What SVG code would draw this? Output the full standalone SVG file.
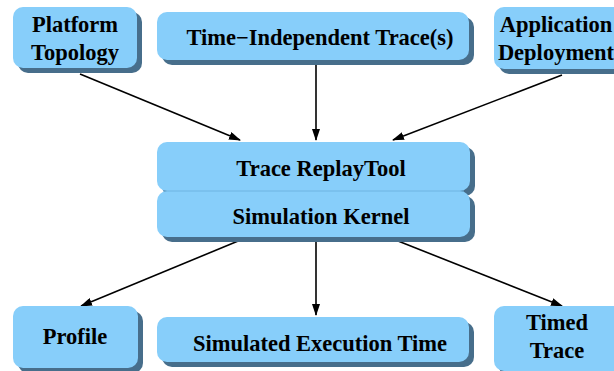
<svg xmlns="http://www.w3.org/2000/svg" width="614" height="371" viewBox="0 0 614 371">
<style>
.sh{fill:#476E8B}
.bx{fill:#87CEFA}
.t{font-family:"Liberation Serif","Times New Roman",serif;font-weight:bold;font-size:22.5px;fill:#000;text-anchor:middle}
.c{stroke:#000;stroke-width:1.6;fill:none;marker-end:url(#ah)}
</style>
<defs>
<marker id="ah" markerWidth="12" markerHeight="8" refX="11" refY="4" orient="auto" markerUnits="userSpaceOnUse">
<path d="M0,0 L12,4 L0,8 Z" fill="#000"/>
</marker>
</defs>
<rect width="614" height="371" fill="#fff"/>
<g id="connectors">
<line class="c" x1="80" y1="74" x2="240" y2="140"/>
<line class="c" x1="316" y1="64" x2="316" y2="140"/>
<line class="c" x1="562" y1="75" x2="393" y2="140"/>
<line class="c" x1="243" y1="239" x2="81" y2="306"/>
<line class="c" x1="316" y1="240" x2="316" y2="315"/>
<line class="c" x1="393" y1="239" x2="562" y2="306"/>
</g>
<g id="platform">
<rect class="sh" x="18" y="12" width="124" height="61" rx="10"/>
<rect class="bx" x="13" y="7" width="124" height="61" rx="10"/>
<text class="t" x="75" y="32">Platform</text>
<text class="t" x="75" y="60">Topology</text>
</g>
<g id="trace">
<rect class="sh" x="162" y="17" width="312" height="48" rx="10"/>
<rect class="bx" x="157" y="12" width="312" height="48" rx="10"/>
<text class="t" x="320" y="45">Time−Independent Trace(s)</text>
</g>
<g id="deployment">
<rect class="sh" x="499" y="12" width="130" height="62" rx="10"/>
<rect class="bx" x="494" y="7" width="130" height="62" rx="10"/>
<text class="t" x="556" y="32">Application</text>
<text class="t" x="556" y="60">Deployment</text>
</g>
<g id="replaytool">
<rect class="sh" x="162" y="147" width="313" height="49" rx="10"/>
<rect class="bx" x="157" y="142" width="313" height="49" rx="10"/>
<text class="t" x="321" y="176">Trace ReplayTool</text>
</g>
<g id="kernel">
<rect class="sh" x="162" y="196" width="313" height="46" rx="10"/>
<rect class="bx" x="157" y="191" width="313" height="46" rx="10"/>
<line x1="163" y1="191" x2="464" y2="191" stroke="#6EB4E2" stroke-width="1"/>
<text class="t" x="321" y="224">Simulation Kernel</text>
</g>
<g id="profile">
<rect class="sh" x="18" y="311" width="125" height="62" rx="10"/>
<rect class="bx" x="13" y="306" width="125" height="62" rx="10"/>
<text class="t" x="75" y="344">Profile</text>
</g>
<g id="exectime">
<rect class="sh" x="162" y="322" width="312" height="45" rx="10"/>
<rect class="bx" x="157" y="317" width="312" height="45" rx="10"/>
<text class="t" x="320" y="351">Simulated Execution Time</text>
</g>
<g id="timedtrace">
<rect class="sh" x="499" y="311" width="130" height="65" rx="10"/>
<rect class="bx" x="494" y="306" width="130" height="65" rx="10"/>
<text class="t" x="557" y="330">Timed</text>
<text class="t" x="557" y="358">Trace</text>
</g>
</svg>
